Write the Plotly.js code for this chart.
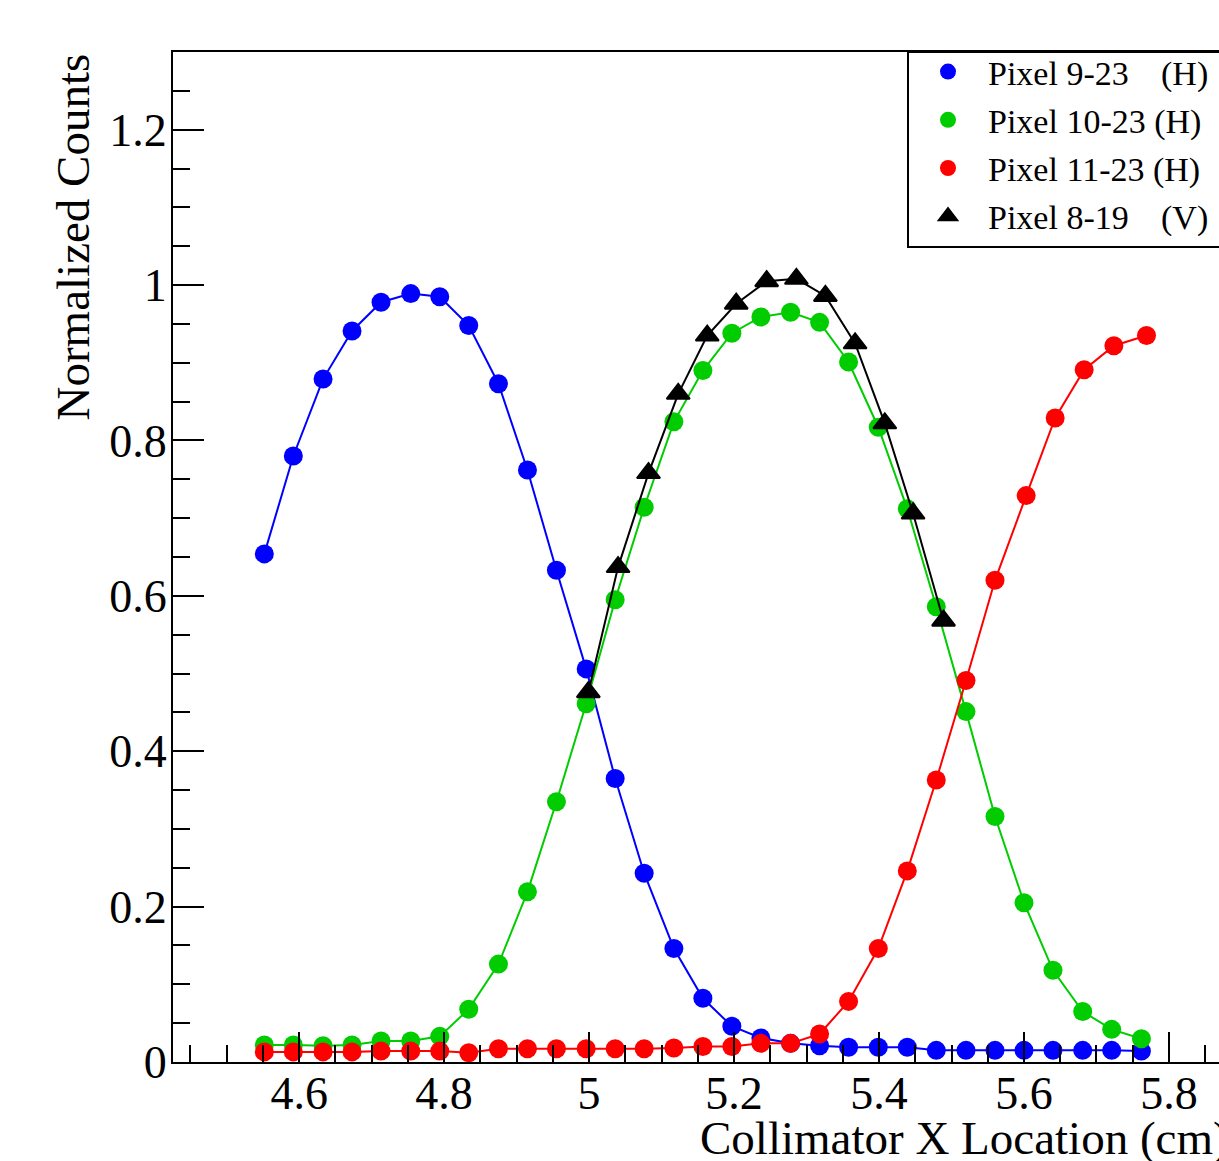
<!DOCTYPE html>
<html>
<head>
<meta charset="utf-8">
<script src="https://cdn.plot.ly/plotly-3.0.1.min.js"></script>
<style>
html, body { margin: 0; padding: 0; overflow: hidden; background: #fff; }
#chart { width: 1250px; height: 1161px; }
</style>
</head>
<body>
<div id="chart"></div>
<script>
// Collimator X positions (cm) for the horizontal-pixel scans
const xH = [4.552, 4.592, 4.633, 4.673, 4.713, 4.754, 4.794, 4.834, 4.875, 4.915, 4.955, 4.996, 5.036, 5.076, 5.117, 5.157, 5.197, 5.237, 5.278, 5.318, 5.358, 5.399, 5.439, 5.479, 5.520, 5.560, 5.600, 5.640, 5.681, 5.721, 5.762];
const xRed = [4.552, 4.592, 4.633, 4.673, 4.713, 4.754, 4.794, 4.834, 4.875, 4.915, 4.955, 4.996, 5.036, 5.076, 5.117, 5.157, 5.197, 5.237, 5.278, 5.318, 5.358, 5.399, 5.439, 5.479, 5.520, 5.560, 5.603, 5.643, 5.683, 5.724, 5.769];
const xV = [4.999, 5.040, 5.082, 5.123, 5.163, 5.203, 5.245, 5.286, 5.326, 5.367, 5.408, 5.447, 5.489];

const pixel9_23 = [0.654, 0.780, 0.879, 0.941, 0.978, 0.989, 0.985, 0.948, 0.873, 0.762, 0.633, 0.506, 0.365, 0.243, 0.146, 0.082, 0.046, 0.031, 0.024, 0.021, 0.019, 0.019, 0.019, 0.015, 0.015, 0.015, 0.015, 0.015, 0.015, 0.015, 0.014];
const pixel10_23 = [0.022, 0.022, 0.021, 0.022, 0.027, 0.027, 0.033, 0.068, 0.126, 0.219, 0.335, 0.461, 0.595, 0.714, 0.824, 0.890, 0.938, 0.959, 0.965, 0.952, 0.901, 0.817, 0.712, 0.586, 0.451, 0.316, 0.205, 0.118, 0.065, 0.042, 0.030];
const pixel11_23 = [0.013, 0.013, 0.013, 0.013, 0.014, 0.014, 0.014, 0.012, 0.017, 0.017, 0.017, 0.017, 0.017, 0.017, 0.018, 0.020, 0.020, 0.024, 0.024, 0.036, 0.078, 0.146, 0.246, 0.363, 0.491, 0.620, 0.729, 0.829, 0.891, 0.922, 0.935];
const pixel8_19 = [0.476, 0.637, 0.758, 0.860, 0.935, 0.976, 1.005, 1.008, 0.986, 0.925, 0.822, 0.706, 0.568];

const seriesNames = ["Pixel 9-23\u00a0\u00a0\u00a0\u2009(H)", "Pixel 10-23 (H)", "Pixel 11-23 (H)", "Pixel 8-19\u00a0\u00a0\u00a0\u2009(V)"];
const seriesColors = ["#0000ff", "#00cc00", "#ff0000", "#000000"];

const series = [
  {x: xH, y: pixel9_23, symbol: "circle", size: 19},
  {x: xH, y: pixel10_23, symbol: "circle", size: 19},
  {x: xRed, y: pixel11_23, symbol: "circle", size: 19},
  {x: xV, y: pixel8_19, symbol: "triangle-up", size: 20}
];

const FONT = "Liberation Serif, Times New Roman, serif";
const traces = [];
series.forEach((s, i) => {
  traces.push({
    x: s.x, y: s.y, type: "scatter", mode: "lines",
    line: {color: seriesColors[i], width: 2},
    showlegend: false, hoverinfo: "skip"
  });
  traces.push({
    x: s.x, y: s.y, type: "scatter", mode: "markers",
    name: seriesNames[i], legendgroup: "g" + i,
    marker: {symbol: s.symbol, size: s.size, color: seriesColors[i],
             line: {width: s.symbol === "triangle-up" ? 2 : 0, color: seriesColors[i]}}
  });
});

const PW = 1067, PH = 1010; // plot area size in px
const layout = {
  width: 1250, height: 1161,
  margin: {l: 173, r: 10, t: 52, b: 99},
  paper_bgcolor: "#fff", plot_bgcolor: "#fff",
  font: {family: FONT, color: "#000", size: 46},
  showlegend: true,
  legend: {
    x: (908 - 173) / PW, y: 1 + 9 / PH, xanchor: "left", yanchor: "top",
    borderwidth: 0, bgcolor: "rgba(0,0,0,0)",
    font: {family: FONT, size: 34, color: "#000"},
    tracegroupgap: 1, traceorder: "grouped", itemwidth: 70
  },
  shapes: [
    {type: "rect", xref: "paper", yref: "paper", layer: "above",
     x0: (908 - 173) / PW, x1: (1232 - 173) / PW, y0: (1062 - 247) / PH, y1: 1,
     line: {color: "#000", width: 2}, fillcolor: "#fff"}
  ],
  xaxis: {
    range: [4.426, 5.898], dtick: 0.2, tick0: 0,
    showgrid: false, zeroline: false,
    showline: true, linecolor: "#000", linewidth: 2, mirror: true,
    ticks: "inside", ticklen: 30, tickwidth: 2, tickcolor: "#000",
    ticklabelstandoff: -10,
    minor: {dtick: 0.05, ticks: "inside", ticklen: 17, tickwidth: 2, tickcolor: "#000", showgrid: false},
    tickfont: {family: FONT, size: 46, color: "#000"}
  },
  yaxis: {
    range: [0, 1.3], dtick: 0.2, tick0: 0,
    showgrid: false, zeroline: false,
    showline: true, linecolor: "#000", linewidth: 2, mirror: true,
    ticks: "inside", ticklen: 31, tickwidth: 2, tickcolor: "#000",
    ticklabelstandoff: -5,
    minor: {dtick: 0.05, ticks: "inside", ticklen: 17, tickwidth: 2, tickcolor: "#000", showgrid: false},
    tickfont: {family: FONT, size: 46, color: "#000"}
  },
  annotations: [
    {text: "Normalized Counts", xref: "paper", yref: "paper",
     x: (72 - 173) / PW, y: 1, xanchor: "center", yanchor: "top",
     textangle: -90, showarrow: false, font: {family: FONT, size: 47, color: "#000"}},
    {text: "Collimator X Location (cm)", xref: "paper", yref: "paper",
     x: (698 - 173) / PW, y: -0.048, xanchor: "left", yanchor: "top",
     showarrow: false, font: {family: FONT, size: 47, color: "#000"}}
  ]
};

Plotly.newPlot("chart", traces, layout, {displayModeBar: false, staticPlot: true});
</script>
</body>
</html>
